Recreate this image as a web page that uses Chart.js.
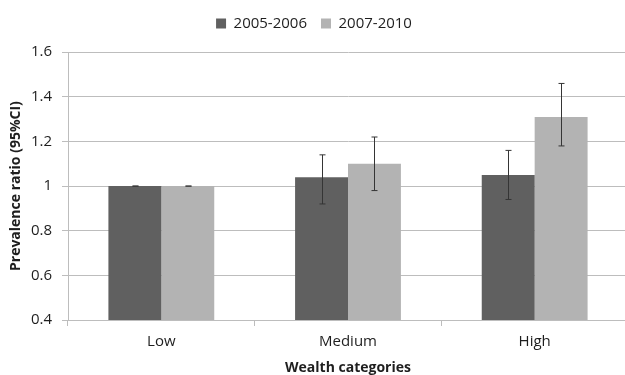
<!DOCTYPE html>
<html>
<head>
<meta charset="utf-8">
<script src="https://cdn.jsdelivr.net/npm/chart.js@4"></script>
<style>
  html, body { margin: 0; padding: 0; background: #fff; overflow: hidden; }
  #wrap { width: 625px; height: 375px; overflow: hidden; }
</style>
</head>
<body>
<div id="wrap"><canvas id="chart" width="628" height="375"></canvas></div>
<script>
// wealth categories on the x axis
const categories = ['Low', 'Medium', 'High'];
const seriesNames = ['2005-2006', '2007-2010'];

// prevalence ratios + 95% CI
const ratio0506 = [1.0, 1.04, 1.05];
const lower0506 = [1.0, 0.92, 0.94];
const upper0506 = [1.0, 1.14, 1.16];

const ratio0710 = [1.0, 1.10, 1.31];
const lower0710 = [1.0, 0.98, 1.18];
const upper0710 = [1.0, 1.22, 1.46];

const yTicks = [0.4, 0.6, 0.8, 1, 1.2, 1.4, 1.6];

const FONT = '"Open Sans", sans-serif';
const TEXT = '#1e1e1e';
const GRID = '#bdbdbd';

// draws the CI whiskers on top of the bars, using the y scale for positions
const errorBars = {
    id: 'errorBars',
    afterDatasetsDraw(chart) {
        const ctx = chart.ctx;
        const y = chart.scales.y;
        chart.data.datasets.forEach((ds, i) => {
            const meta = chart.getDatasetMeta(i);
            meta.data.forEach((bar, j) => {
                const yLo = y.getPixelForValue(ds.ciLower[j]);
                const yHi = y.getPixelForValue(ds.ciUpper[j]);
                const x = Math.round(bar.x) + 0.5;
                ctx.save();
                ctx.strokeStyle = '#353535';
                ctx.lineWidth = 1;
                ctx.beginPath();
                ctx.moveTo(x, yLo); ctx.lineTo(x, yHi);
                ctx.moveTo(x - 3, yLo); ctx.lineTo(x + 3, yLo);
                ctx.moveTo(x - 3, yHi); ctx.lineTo(x + 3, yHi);
                ctx.stroke();
                ctx.restore();
            });
        });
    }
};

new Chart(document.getElementById('chart'), {
    type: 'bar',
    data: {
        labels: categories,
        datasets: [{
            label: seriesNames[0],
            data: ratio0506,
            ciLower: lower0506,
            ciUpper: upper0506,
            backgroundColor: '#606060'
        }, {
            label: seriesNames[1],
            data: ratio0710,
            ciLower: lower0710,
            ciUpper: upper0710,
            backgroundColor: '#b3b3b3'
        }]
    },
    options: {
        responsive: false,
        animation: false,
        devicePixelRatio: 1,
        layout: { padding: { top: 2, right: 0, left: 0, bottom: 0 } },
        datasets: { bar: { categoryPercentage: 0.567, barPercentage: 1.0 } },
        plugins: {
            legend: {
                position: 'top',
                labels: {
                    boxWidth: 10,
                    boxHeight: 10,
                    padding: 14,
                    color: TEXT,
                    font: { family: FONT, size: 15 }
                }
            },
            // empty spacer between the legend and the plot
            subtitle: {
                display: true,
                text: '',
                weight: 500,
                font: { size: 1 },
                padding: { top: 5, bottom: 5 }
            },
            tooltip: { enabled: false }
        },
        scales: {
            x: {
                afterFit: (scale) => { scale.height = 55; },
                grid: { offset: true, drawOnChartArea: false, tickLength: 6, color: GRID },
                border: { color: GRID },
                ticks: { color: TEXT, padding: 7, font: { family: FONT, size: 15 } },
                title: {
                    display: true,
                    text: 'Wealth categories',
                    color: TEXT,
                    padding: { top: 10, bottom: 0 },
                    font: { family: FONT, size: 14, weight: 'bold', lineHeight: 1.0 }
                }
            },
            y: {
                min: 0.4,
                max: 1.6,
                afterBuildTicks: (scale) => { scale.ticks = yTicks.map(v => ({ value: v })); },
                afterFit: (scale) => { scale.width = 68; },
                grid: { color: GRID, tickLength: 6 },
                border: { color: GRID },
                ticks: {
                    color: TEXT,
                    padding: 10,
                    font: { family: FONT, size: 15 },
                    callback: (v) => String(+v.toFixed(1))
                },
                title: {
                    display: true,
                    text: 'Prevalence ratio (95%CI)',
                    color: TEXT,
                    padding: { top: 8, bottom: 0 },
                    font: { family: FONT, size: 14, weight: 'bold' }
                }
            }
        }
    },
    plugins: [errorBars]
});
</script>
</body>
</html>
